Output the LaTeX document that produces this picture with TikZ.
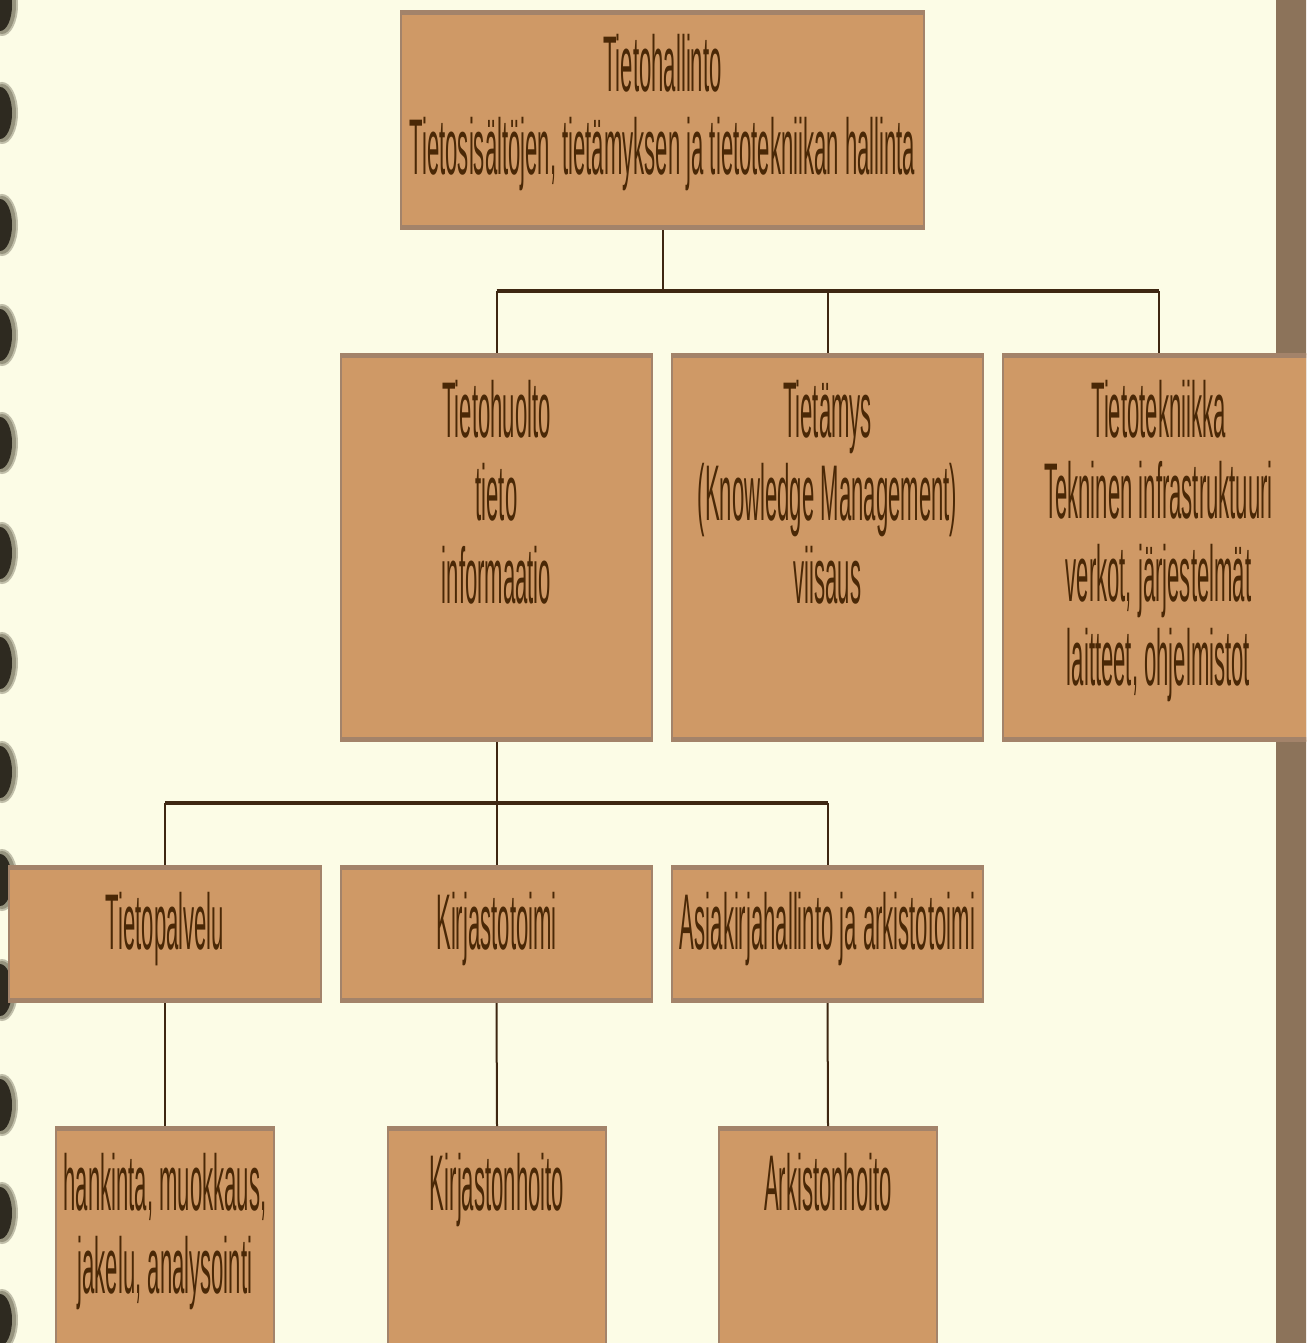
\documentclass[tikz,border=0pt]{standalone}
\usepackage{fontspec}
\newfontfamily\nf[FakeStretch=0.28]{Liberation Sans}
\definecolor{bg}{HTML}{FCFCE6}
\definecolor{boxfill}{HTML}{CF9966}
\definecolor{bordercol}{HTML}{A3836A}
\definecolor{txtcol}{HTML}{4A2806}
\definecolor{linecol}{HTML}{3E2712}
\definecolor{barcol}{HTML}{8C735A}
\definecolor{blobdark}{HTML}{2E2A20}
\definecolor{blobhalo}{HTML}{7A7662}
\newcommand\boxbands[1]{%
  \fill[bordercol] (#1.north west) rectangle ([yshift=-5pt]#1.north east);
  \fill[bordercol] (#1.south west) rectangle ([yshift=5pt]#1.south east);}
\begin{document}
\begin{tikzpicture}[x=1pt,y=-1pt,
  orgbox/.style={draw=bordercol,fill=boxfill,line width=2pt,inner sep=0pt,rectangle},
  txt/.style={anchor=base,inner sep=0pt,text=txtcol,font=\nf\fontsize{79}{83}\selectfont},
  bus/.style={draw=linecol,line width=4pt},
  link/.style={draw=linecol,line width=2pt}]
\useasboundingbox (0,0) rectangle (1306,1343);
\clip (0,0) rectangle (1306,1343);
\fill[bg] (0,0) rectangle (1306,1343);
% right bar
\fill[barcol] (1276,-5) rectangle (1310,1350);
% spiral binding blobs
\foreach \yc in {5,113,225,335,443,553,663,772,880,990,1105,1213,1320}{
  \fill[blobhalo,opacity=0.45] (2,\yc) ellipse [x radius=16pt, y radius=31pt];
  \fill[blobhalo,opacity=0.6] (2,\yc) ellipse [x radius=14pt, y radius=29pt];
  \fill[blobdark] (0,\yc) ellipse [x radius=12pt, y radius=26pt];
}
% boxes
\node[orgbox,minimum width=523pt,minimum height=218pt] (top) at (662.5,120) {};
\boxbands{top}
\node[orgbox,minimum width=311pt,minimum height=387pt] (huolto) at (496.5,547.5) {};
\boxbands{huolto}
\node[orgbox,minimum width=311pt,minimum height=387pt] (tietamys) at (827.5,547.5) {};
\boxbands{tietamys}
\node[orgbox,minimum width=311pt,minimum height=387pt] (tekniikka) at (1158.5,547.5) {};
\boxbands{tekniikka}
\node[orgbox,minimum width=312pt,minimum height=136pt] (palvelu) at (165,934) {};
\boxbands{palvelu}
\node[orgbox,minimum width=311pt,minimum height=136pt] (kirjasto) at (496.5,934) {};
\boxbands{kirjasto}
\node[orgbox,minimum width=311pt,minimum height=136pt] (asiakirja) at (827.5,934) {};
\boxbands{asiakirja}
\node[orgbox,minimum width=218pt,minimum height=240pt] (hankinta) at (165,1247) {};
\boxbands{hankinta}
\node[orgbox,minimum width=218pt,minimum height=240pt] (kirjhoito) at (497,1247) {};
\boxbands{kirjhoito}
\node[orgbox,minimum width=218pt,minimum height=240pt] (arkhoito) at (828,1247) {};
\boxbands{arkhoito}
% connectors
\coordinate (b1) at (top.south |- 0,291);
\coordinate (b1l) at (huolto.north |- 0,291);
\coordinate (b1m) at (tietamys.north |- 0,291);
\coordinate (b1r) at (tekniikka.north |- 0,291);
\draw[link] (top.south) -- (b1);
\draw[bus] (b1l) -- (b1r);
\draw[link] (b1l) -- (huolto.north);
\draw[link] (b1m) -- (tietamys.north);
\draw[link] (b1r) -- (tekniikka.north);
\coordinate (b2) at (huolto.south |- 0,803);
\coordinate (b2l) at (palvelu.north |- 0,803);
\coordinate (b2r) at (asiakirja.north |- 0,803);
\draw[link] (huolto.south) -- (b2);
\draw[bus] (b2l) -- (b2r);
\draw[link] (b2l) -- (palvelu.north);
\draw[link] (b2) -- (kirjasto.north);
\draw[link] (b2r) -- (asiakirja.north);
\draw[link] (palvelu.south) -- (hankinta.north);
\draw[link] (kirjasto.south) -- (kirjhoito.north);
\draw[link] (asiakirja.south) -- (arkhoito.north);
% texts
\node[txt] (t1) at (662.5,92) {Tietohallinto};
\node[txt] (t2) at (662.5,175) {Tietosisältöjen, tietämyksen ja tietotekniikan hallinta};
\node[txt] (h1) at (496.5,437) {Tietohuolto};
\node[txt] (h2) at (496.5,520) {tieto};
\node[txt] (h3) at (496.5,603) {informaatio};
\node[txt] (m1) at (827.5,437) {Tietämys};
\node[txt] (m2) at (827.5,520) {(Knowledge Management)};
\node[txt] (m3) at (827.5,603) {viisaus};
\node[txt] (k1) at (1158.5,437) {Tietotekniikka};
\node[txt] (k2) at (1158.5,518) {Tekninen infrastruktuuri};
\node[txt] (k3) at (1158.5,601) {verkot, järjestelmät};
\node[txt] (k4) at (1158.5,685) {laitteet, ohjelmistot};
\node[txt] (p1) at (165,949) {Tietopalvelu};
\node[txt] (p2) at (496.5,949) {Kirjastotoimi};
\node[txt] (p3) at (827.5,949) {Asiakirjahallinto ja arkistotoimi};
\node[txt] (q1) at (165,1210) {hankinta, muokkaus,};
\node[txt] (q2) at (165,1293) {jakelu, analysointi};
\node[txt] (q3) at (497,1210) {Kirjastonhoito};
\node[txt] (q4) at (828,1210) {Arkistonhoito};
\end{tikzpicture}
\end{document}
